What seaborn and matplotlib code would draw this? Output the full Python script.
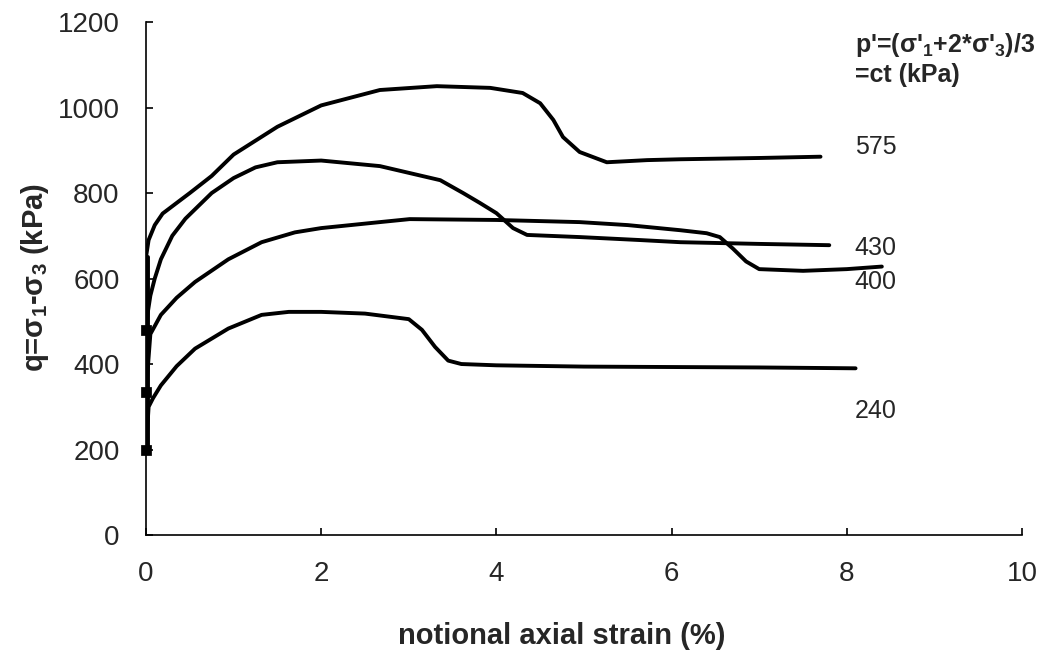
import numpy as np
import pandas as pd
import seaborn as sns
import matplotlib.pyplot as plt

# Data
strain_575 = [0.0, 0.0, 0.03, 0.1, 0.19, 0.39, 0.5, 0.75, 1.0, 1.5, 2.0, 2.67, 3.32, 3.93, 4.3, 4.5, 4.65, 4.76, 4.95, 5.26, 5.72, 6.1, 7.0, 7.7]
q_575 = [480, 650, 690, 725, 752, 783, 800, 840, 890, 955, 1005, 1041, 1050, 1046, 1034, 1010, 971, 931, 896, 872, 877, 879, 882, 885]

strain_430 = [0.0, 0.02, 0.05, 0.1, 0.17, 0.3, 0.45, 0.75, 1.0, 1.25, 1.5, 2.0, 2.67, 3.36, 3.62, 3.81, 4.0, 4.19, 4.35, 4.95, 5.64, 6.1, 7.0, 7.8]
q_430 = [480, 520, 560, 600, 645, 700, 740, 800, 835, 860, 872, 876, 863, 830, 800, 777, 753, 718, 702, 697, 690, 685, 681, 678]

strain_400 = [0.0, 0.05, 0.17, 0.35, 0.56, 0.94, 1.32, 1.7, 2.0, 2.67, 3.01, 4.0, 4.95, 5.5, 6.1, 6.4, 6.55, 6.7, 6.85, 7.0, 7.5, 8.0, 8.4]
q_400 = [335, 470, 515, 555, 592, 645, 685, 708, 718, 732, 739, 737, 732, 725, 713, 706, 697, 670, 640, 622, 618, 622, 628]

strain_240 = [0.0, 0.03, 0.08, 0.17, 0.35, 0.56, 0.94, 1.32, 1.63, 2.0, 2.5, 3.0, 3.15, 3.3, 3.45, 3.6, 4.0, 5.0, 6.0, 7.0, 8.1]
q_240 = [200, 300, 320, 350, 395, 436, 483, 515, 522, 522, 518, 505, 480, 440, 408, 400, 397, 394, 393, 392, 390]

start_strain = [0.0, 0.0, 0.0]
start_q = [200, 335, 480]

labels = ["575", "430", "400", "240"]
label_x = [8.09, 8.09, 8.09, 8.09]
label_y = [908, 671, 592, 290]

frames = []
for name, s, q in [("575", strain_575, q_575), ("430", strain_430, q_430),
                   ("400", strain_400, q_400), ("240", strain_240, q_240)]:
    frames.append(pd.DataFrame({"strain": s, "q": q, "test": name}))
df = pd.concat(frames, ignore_index=True)

sns.set_style("ticks")
plt.rcParams['font.family'] = ['Liberation Sans', 'DejaVu Sans']
plt.rcParams['mathtext.fontset'] = 'custom'
plt.rcParams['mathtext.rm'] = 'Liberation Sans:bold'
plt.rcParams['mathtext.it'] = 'Liberation Sans:bold'
plt.rcParams['mathtext.bf'] = 'Liberation Sans:bold'

fig = plt.figure(figsize=(10.45, 6.52), dpi=100)
ax = fig.add_axes([0.1397, 0.1794, 0.8383, 0.7868])

sns.lineplot(data=df, x="strain", y="q", units="test", estimator=None, sort=False,
             color="black", linewidth=2.8, ax=ax)
ax.plot([0.02, 0.02], [200, 650], color="black", linewidth=2.8)
sns.scatterplot(x=start_strain, y=start_q, marker="s", s=45, color="black",
                edgecolor="black", ax=ax, zorder=5, clip_on=False)

for lab, lx, ly in zip(labels, label_x, label_y):
    ax.text(lx, ly, lab, fontsize=18, va="center", ha="left")

ax.text(8.09, 1146, r"p'=(σ'$_{1}$+2*σ'$_{3}$)/3", fontsize=18, fontweight="bold",
        va="center", ha="left")
ax.text(8.09, 1076, "=ct (kPa)", fontsize=18, fontweight="bold", va="center", ha="left")

ax.set_xlim(0, 10)
ax.set_ylim(0, 1200)
ax.set_xticks(range(0, 11, 2))
ax.set_yticks(range(0, 1201, 200))
ax.tick_params(axis="both", labelsize=20, direction="in", length=5, width=1.2,
               color="black", pad=19)
for sp in ["left", "bottom"]:
    ax.spines[sp].set_color("black")
    ax.spines[sp].set_linewidth(1.2)
sns.despine(ax=ax)

ax.set_xlabel("notional axial strain (%)", fontsize=21, fontweight="bold")
ax.set_ylabel(r"q=σ$_{1}$-σ$_{3}$ (kPa)", fontsize=21, fontweight="bold")
ax.xaxis.set_label_coords(0.475, -0.170)
ax.yaxis.set_label_coords(-0.108, 0.503)

fig.savefig("out.png", dpi=100)
